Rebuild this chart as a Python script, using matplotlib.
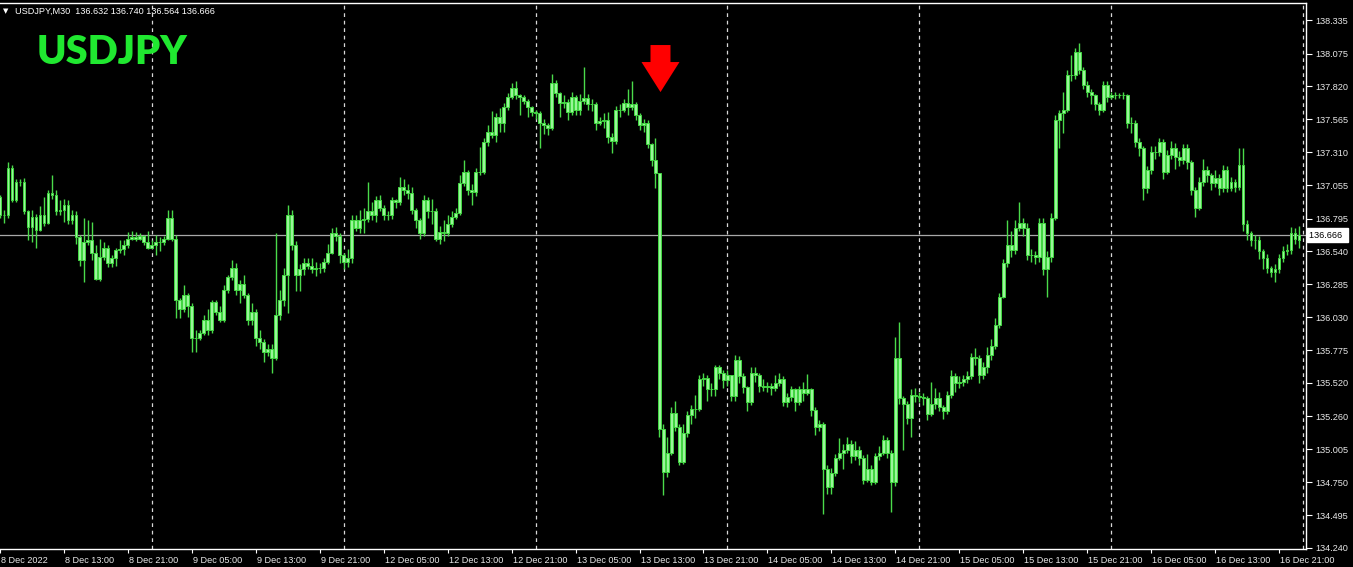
import matplotlib
matplotlib.use("Agg")
import matplotlib.pyplot as plt
import matplotlib.transforms as mtransforms
import numpy as np

# ---------------- data (M30 bars, USDJPY, 8 Dec 05:00 .. 16 Dec 23:30) ----------------
first_open = 136.96
closes = [
    136.82, 136.82, 137.19, 136.94, 137.08, 137.08, 136.85, 136.73, 136.81, 136.71,
    136.82, 136.76, 136.99, 136.98, 136.85, 136.86, 136.90, 136.78, 136.82, 136.65,
    136.47, 136.61, 136.63, 136.53, 136.33, 136.50, 136.57, 136.45, 136.49, 136.55,
    136.56, 136.59, 136.64, 136.65, 136.64, 136.66, 136.61, 136.57, 136.59, 136.61,
    136.61, 136.64, 136.80, 136.64, 136.16, 136.09, 136.20, 136.12, 135.87, 135.87,
    135.91, 136.01, 135.93, 136.15, 136.07, 136.01, 136.24, 136.34, 136.41, 136.24,
    136.29, 136.20, 136.01, 136.07, 135.87, 135.84, 135.76, 135.78, 135.71, 136.05,
    136.16, 136.36, 136.82, 136.59, 136.36, 136.40, 136.45, 136.43, 136.40, 136.41,
    136.41, 136.46, 136.53, 136.68, 136.66, 136.51, 136.46, 136.49, 136.78, 136.72,
    136.78, 136.79, 136.85, 136.82, 136.94, 136.88, 136.82, 136.82, 136.94, 136.92,
    137.04, 137.02, 136.99, 136.86, 136.78, 136.68, 136.94, 136.85, 136.85, 136.64,
    136.69, 136.68, 136.75, 136.81, 136.84, 137.07, 137.16, 137.02, 137.00, 137.16,
    137.16, 137.39, 137.47, 137.44, 137.58, 137.54, 137.66, 137.74, 137.81, 137.75,
    137.74, 137.71, 137.66, 137.62, 137.61, 137.54, 137.52, 137.50, 137.85, 137.77,
    137.69, 137.70, 137.62, 137.74, 137.64, 137.71, 137.73, 137.68, 137.68, 137.54,
    137.55, 137.56, 137.43, 137.40, 137.64, 137.64, 137.69, 137.66, 137.68, 137.60,
    137.52, 137.54, 137.37, 137.25, 137.15, 135.16, 134.83, 134.98, 135.29, 135.18,
    134.91, 135.13, 135.27, 135.32, 135.32, 135.55, 135.56, 135.47, 135.47, 135.64,
    135.60, 135.54, 135.58, 135.42, 135.70, 135.57, 135.49, 135.37, 135.60, 135.58,
    135.50, 135.49, 135.50, 135.48, 135.52, 135.55, 135.37, 135.41, 135.47, 135.37,
    135.47, 135.44, 135.47, 135.31, 135.18, 135.20, 134.85, 134.71, 134.82, 134.94,
    134.98, 135.00, 135.05, 134.95, 135.00, 134.94, 134.77, 134.85, 134.75, 134.95,
    134.98, 135.08, 134.98, 134.75, 135.71, 135.40, 135.36, 135.25, 135.43, 135.42,
    135.41, 135.40, 135.28, 135.36, 135.40, 135.33, 135.30, 135.43, 135.57, 135.52,
    135.53, 135.55, 135.57, 135.72, 135.71, 135.58, 135.64, 135.74, 135.81, 135.97,
    136.19, 136.45, 136.59, 136.55, 136.72, 136.76, 136.72, 136.51, 136.51, 136.50,
    136.76, 136.40, 136.50, 136.80, 137.56, 137.61, 137.64, 137.91, 137.91, 138.09,
    137.95, 137.83, 137.78, 137.75, 137.68, 137.64, 137.83, 137.74, 137.75, 137.75,
    137.75, 137.75, 137.54, 137.54, 137.39, 137.34, 137.03, 137.17, 137.31, 137.31,
    137.39, 137.16, 137.29, 137.34, 137.27, 137.25, 137.34, 137.23, 137.02, 136.88,
    137.08, 137.17, 137.13, 137.07, 137.11, 137.03, 137.17, 137.03, 137.08, 137.04,
    137.21, 136.75, 136.68, 136.63, 136.63, 136.54, 136.49, 136.41, 136.38, 136.40,
    136.49, 136.54, 136.55, 136.68, 136.64, 136.666,
]
highs = [
    136.98, 136.86, 137.23, 137.21, 137.10, 137.10, 137.11, 136.86, 136.86, 136.83,
    136.89, 136.96, 137.02, 137.13, 137.02, 136.94, 136.95, 136.94, 136.86, 136.85,
    136.67, 136.80, 136.78, 136.77, 136.59, 136.64, 136.61, 136.59, 136.51, 136.57,
    136.63, 136.63, 136.69, 136.70, 136.69, 136.68, 136.67, 136.70, 136.63, 136.67,
    136.65, 136.66, 136.86, 136.86, 136.67, 136.18, 136.28, 136.22, 136.14, 135.93,
    135.93, 136.05, 136.09, 136.16, 136.16, 136.12, 136.28, 136.36, 136.47, 136.45,
    136.32, 136.36, 136.22, 136.14, 136.09, 135.93, 135.86, 135.82, 135.82, 136.68,
    136.24, 136.41, 136.90, 136.86, 136.62, 136.44, 136.49, 136.49, 136.49, 136.46,
    136.45, 136.49, 136.60, 136.72, 136.73, 136.68, 136.53, 136.56, 136.82, 136.82,
    136.86, 136.88, 137.08, 136.92, 136.97, 136.98, 136.90, 136.85, 136.96, 136.95,
    137.12, 137.10, 137.06, 137.04, 136.88, 136.80, 136.98, 136.96, 136.95, 136.88,
    136.74, 136.78, 136.82, 136.85, 136.88, 137.13, 137.25, 137.17, 137.06, 137.19,
    137.35, 137.42, 137.52, 137.63, 137.61, 137.65, 137.69, 137.77, 137.85, 137.86,
    137.76, 137.75, 137.72, 137.67, 137.64, 137.63, 137.57, 137.54, 137.92, 137.87,
    137.78, 137.75, 137.72, 137.78, 137.75, 137.76, 137.97, 137.76, 137.72, 137.70,
    137.58, 137.61, 137.62, 137.46, 137.67, 137.68, 137.72, 137.80, 137.86, 137.70,
    137.61, 137.57, 137.56, 137.38, 137.42, 137.15, 135.20, 135.10, 135.33, 135.38,
    135.20, 135.20, 135.30, 135.35, 135.43, 135.58, 135.60, 135.58, 135.52, 135.66,
    135.66, 135.62, 135.62, 135.58, 135.74, 135.73, 135.60, 135.50, 135.64, 135.64,
    135.60, 135.55, 135.53, 135.52, 135.58, 135.60, 135.57, 135.44, 135.50, 135.48,
    135.50, 135.53, 135.59, 135.48, 135.33, 135.23, 135.22, 134.88, 134.86, 134.97,
    135.09, 135.05, 135.10, 135.08, 135.07, 135.03, 134.96, 134.97, 134.88, 134.98,
    135.03, 135.12, 135.10, 135.00, 135.88, 135.99, 135.42, 135.38, 135.47, 135.48,
    135.45, 135.44, 135.42, 135.53, 135.48, 135.45, 135.35, 135.46, 135.62, 135.60,
    135.57, 135.58, 135.61, 135.75, 135.79, 135.74, 135.68, 135.80, 135.86, 136.02,
    136.22, 136.48, 136.78, 136.70, 136.78, 136.92, 136.80, 136.76, 136.56, 136.54,
    136.80, 136.80, 136.54, 136.84, 137.60, 137.64, 137.78, 137.95, 138.06, 138.12,
    138.16, 137.97, 137.86, 137.80, 137.76, 137.70, 137.86, 137.86, 137.78, 137.78,
    137.77, 137.78, 137.76, 137.58, 137.56, 137.42, 137.36, 137.20, 137.36, 137.36,
    137.42, 137.41, 137.33, 137.40, 137.38, 137.32, 137.37, 137.37, 137.25, 137.04,
    137.12, 137.26, 137.20, 137.15, 137.17, 137.14, 137.21, 137.20, 137.12, 137.10,
    137.34, 137.34, 136.78, 136.70, 136.67, 136.66, 136.56, 136.52, 136.43, 136.44,
    136.52, 136.58, 136.60, 136.73, 136.72, 136.740,
]
lows = [
    136.80, 136.76, 136.80, 136.92, 136.92, 137.05, 136.83, 136.63, 136.61, 136.57,
    136.70, 136.74, 136.75, 136.95, 136.82, 136.82, 136.77, 136.75, 136.75, 136.60,
    136.43, 136.30, 136.59, 136.47, 136.32, 136.31, 136.47, 136.42, 136.42, 136.43,
    136.53, 136.51, 136.57, 136.63, 136.62, 136.63, 136.59, 136.56, 136.57, 136.51,
    136.54, 136.59, 136.63, 136.62, 136.02, 136.02, 136.07, 136.03, 135.76, 135.76,
    135.85, 135.89, 135.89, 135.91, 136.05, 135.99, 135.99, 136.22, 136.32, 136.20,
    136.14, 136.18, 135.97, 135.97, 135.81, 135.78, 135.68, 135.73, 135.60, 135.70,
    136.01, 136.12, 136.06, 136.55, 136.23, 136.23, 136.36, 136.40, 136.37, 136.35,
    136.37, 136.38, 136.44, 136.52, 136.62, 136.45, 136.40, 136.42, 136.45, 136.70,
    136.68, 136.68, 136.77, 136.78, 136.77, 136.85, 136.78, 136.78, 136.79, 136.88,
    136.90, 136.98, 136.95, 136.83, 136.72, 136.64, 136.66, 136.80, 136.75, 136.62,
    136.60, 136.62, 136.66, 136.73, 136.79, 136.82, 137.05, 136.98, 136.90, 136.97,
    137.13, 137.14, 137.36, 137.42, 137.39, 137.47, 137.47, 137.64, 137.72, 137.72,
    137.60, 137.68, 137.58, 137.59, 137.57, 137.34, 137.45, 137.44, 137.48, 137.74,
    137.58, 137.65, 137.56, 137.60, 137.60, 137.60, 137.68, 137.64, 137.63, 137.48,
    137.52, 137.50, 137.38, 137.30, 137.37, 137.58, 137.62, 137.60, 137.64, 137.56,
    137.48, 137.47, 137.34, 137.20, 137.03, 135.10, 134.65, 134.79, 134.96, 135.15,
    134.88, 134.89, 135.10, 135.20, 135.25, 135.30, 135.50, 135.38, 135.42, 135.42,
    135.55, 135.48, 135.50, 135.38, 135.38, 135.52, 135.44, 135.30, 135.35, 135.53,
    135.45, 135.46, 135.45, 135.43, 135.46, 135.50, 135.34, 135.33, 135.38, 135.30,
    135.35, 135.38, 135.43, 135.26, 135.12, 135.15, 134.50, 134.66, 134.66, 134.80,
    134.92, 134.85, 134.98, 134.90, 134.92, 134.88, 134.74, 134.75, 134.73, 134.74,
    134.92, 134.96, 134.94, 134.52, 134.72, 135.36, 135.00, 135.20, 135.10, 135.37,
    135.37, 135.35, 135.23, 135.26, 135.32, 135.30, 135.24, 135.28, 135.40, 135.45,
    135.48, 135.50, 135.52, 135.55, 135.66, 135.52, 135.55, 135.60, 135.70, 135.78,
    135.95, 136.18, 136.42, 136.50, 136.52, 136.70, 136.66, 136.47, 136.46, 136.44,
    136.46, 136.36, 136.19, 136.46, 136.78, 137.34, 137.46, 137.62, 137.86, 137.88,
    137.92, 137.80, 137.74, 137.68, 137.64, 137.60, 137.62, 137.70, 137.72, 137.72,
    137.73, 137.72, 137.50, 137.46, 137.35, 137.28, 136.94, 136.99, 137.14, 137.26,
    137.28, 137.10, 137.14, 137.26, 137.18, 137.20, 137.22, 137.18, 136.98, 136.81,
    136.86, 137.05, 137.08, 137.02, 137.04, 136.98, 137.00, 137.00, 137.01, 137.00,
    137.02, 136.70, 136.63, 136.58, 136.56, 136.48, 136.40, 136.37, 136.34, 136.30,
    136.37, 136.46, 136.51, 136.52, 136.60, 136.564,
]
last_ohlc = [136.632, 136.740, 136.564, 136.666]

tick_bars = list(range(0, 321, 16))
tick_labels = ["8 Dec 2022", "8 Dec 13:00", "8 Dec 21:00", "9 Dec 05:00", "9 Dec 13:00",
               "9 Dec 21:00", "12 Dec 05:00", "12 Dec 13:00", "12 Dec 21:00", "13 Dec 05:00",
               "13 Dec 13:00", "13 Dec 21:00", "14 Dec 05:00", "14 Dec 13:00", "14 Dec 21:00",
               "15 Dec 05:00", "15 Dec 13:00", "15 Dec 21:00", "16 Dec 05:00", "16 Dec 13:00",
               "16 Dec 21:00"]
day_start_bars = [38, 86, 134, 182, 230, 278, 326]
price_ticks = [138.335, 138.075, 137.820, 137.565, 137.310, 137.055, 136.795, 136.540,
               136.285, 136.030, 135.775, 135.520, 135.260, 135.005, 134.750, 134.495, 134.240]
current_price = 136.666

# arrow annotation (bar index, prices)
arrow_bar = 165.25
arrow_top, arrow_base, arrow_tip = 138.141, 138.009, 137.776
arrow_shaft_half, arrow_head_half = 2.5, 4.75

# ---------------- drawing ----------------
plt.rcParams['font.family'] = ['Liberation Sans', 'DejaVu Sans']
W, H = 1353, 567
fig = plt.figure(figsize=(W / 100, H / 100), dpi=100, facecolor='black')
ax = fig.add_axes([0, (H - 549) / H, 1306 / W, 546 / H], facecolor='black')

closes = np.array(closes)
highs = np.array(highs)
lows = np.array(lows)
opens = np.concatenate([[first_open], closes[:-1]])
opens[-1] = last_ohlc[0]
idx = np.arange(len(closes))

ax.set_xlim(0.25, 326.75)
ax.set_ylim(134.232, 138.467)

# grid (vertical dashed at day starts)
for b in day_start_bars:
    ax.axvline(b, color='#d8d8d8', lw=0.9, dashes=(3, 3), zorder=1)

# current price line
ax.axhline(current_price, color='#a8a8a8', lw=0.9, zorder=2)

# candles
ax.vlines(idx, lows, highs, color='#4ada4a', lw=1.0, zorder=3)
bottoms = np.minimum(opens, closes)
heights = np.abs(closes - opens)
ax.bar(idx, heights, bottom=bottoms, width=0.72, color='#9af59a', edgecolor='#42d842',
       lw=0.7, zorder=4)

# red arrow
ax.fill([arrow_bar - arrow_shaft_half, arrow_bar + arrow_shaft_half, arrow_bar + arrow_shaft_half,
         arrow_bar + arrow_head_half, arrow_bar, arrow_bar - arrow_head_half,
         arrow_bar - arrow_shaft_half],
        [arrow_top, arrow_top, arrow_base, arrow_base, arrow_tip, arrow_base, arrow_base],
        color='#ff0000', lw=0, zorder=6)

# spines
for s in ['top', 'right', 'bottom']:
    ax.spines[s].set_color('#ffffff')
    ax.spines[s].set_linewidth(1.0)
ax.spines['left'].set_visible(False)

# y axis on right
ax.yaxis.tick_right()
ax.set_yticks(price_ticks)
ax.set_yticklabels([f"{v:.3f}" for v in price_ticks])
ax.tick_params(axis='y', direction='out', length=4, width=0.8, color='#ffffff',
               labelcolor='#e8e8e8', labelsize=6.6, pad=3)

# x axis
ax.set_xticks(tick_bars)
ax.set_xticklabels(tick_labels)
ax.tick_params(axis='x', direction='out', length=3, width=0.8, color='#ffffff',
               labelcolor='#e8e8e8', labelsize=6.6, pad=2)
offset = mtransforms.ScaledTranslation(1 / 100, 0, fig.dpi_scale_trans)
for lab in ax.get_xticklabels():
    lab.set_ha('left')
    lab.set_transform(lab.get_transform() + offset)

# current price label
trans = mtransforms.blended_transform_factory(ax.transAxes, ax.transData)
ax.text(1.0025, current_price, f"{current_price:.3f} ", transform=trans, ha='left', va='center',
        fontsize=6.6, color='black', zorder=10, clip_on=False,
        bbox=dict(boxstyle='square,pad=0.3', facecolor='white', edgecolor='white'))

# header and title
fig.text(3 / W, 1 - 11 / H, "▼", color='white', fontsize=5, va='center', ha='left',
         family=['DejaVu Sans'])
fig.text(15 / W, 1 - 11 / H, "USDJPY,M30  136.632 136.740 136.564 136.666", color='white',
         fontsize=6.6, va='center', ha='left')
fig.text(37 / W, 1 - 64 / H, "USDJPY", color='#20e830', fontsize=28.5, fontweight='heavy',
         family=['Lato', 'DejaVu Sans'], va='baseline', ha='left')

fig.savefig('out.png', dpi=100, facecolor='black')
